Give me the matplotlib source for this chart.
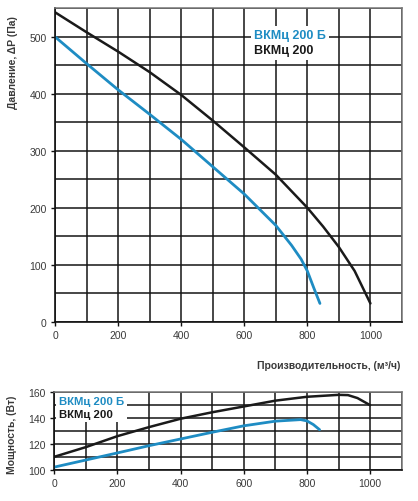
import matplotlib
matplotlib.use("Agg")
import matplotlib.pyplot as plt
from matplotlib.lines import Line2D
from matplotlib.ticker import MultipleLocator

plt.rcParams["font.family"] = ["Liberation Sans", "DejaVu Sans"]

BLUE = "#1e8cc3"
BLACK = "#1a1a1a"
TEXT = "#3a3a3a"

# pressure curves, Pa vs m3/h
flow_200 = [0, 100, 200, 300, 400, 500, 600, 700, 800, 850, 900, 950, 1000]
pressure_200 = [543, 508, 474, 438, 398, 353, 306, 258, 200, 167, 131, 89, 32]
flow_200b = [0, 100, 200, 300, 400, 500, 600, 700, 750, 780, 800, 820, 840]
pressure_200b = [500, 453, 407, 364, 320, 272, 224, 169, 134, 110, 89, 60, 32]

# power curves, W vs m3/h
pflow_200 = [0, 100, 200, 300, 400, 500, 600, 700, 800, 900, 930, 960, 1000]
power_200 = [110, 117.5, 126, 133, 139.5, 144.5, 149, 153.5, 156.5, 158, 157.8, 155.5, 150]
pflow_200b = [0, 100, 200, 300, 400, 500, 600, 700, 780, 800, 820, 840]
power_200b = [102, 107.5, 113, 118.6, 123.8, 129, 134, 137.6, 138.8, 137.8, 135, 131]

labels = ["ВКМц 200 Б", "ВКМц 200"]


def style_axes(ax, xmax, ymin, ymax, ymajor, yminor):
    ax.set_xlim(0, xmax)
    ax.set_ylim(ymin, ymax)
    ax.xaxis.set_major_locator(MultipleLocator(200))
    ax.xaxis.set_minor_locator(MultipleLocator(100))
    ax.yaxis.set_major_locator(MultipleLocator(ymajor))
    ax.yaxis.set_minor_locator(MultipleLocator(yminor))
    ax.grid(True, which="both", color="#151515", linewidth=1.1)
    ax.set_axisbelow(True)
    ax.tick_params(which="major", direction="out", length=3, width=1,
                   labelsize=7.5, labelcolor=TEXT, color="#111111", pad=3)
    ax.tick_params(which="minor", length=0)
    for side in ["left", "bottom"]:
        ax.spines[side].set_color("#111111")
        ax.spines[side].set_linewidth(1.2)
    for side in ["top", "right"]:
        ax.spines[side].set_color("#777777")
        ax.spines[side].set_linewidth(1.1)


def add_legend(ax, anchor, size):
    handles = [Line2D([], [], color=BLUE), Line2D([], [], color=BLACK)]
    leg = ax.legend(handles, labels, loc="upper left", bbox_to_anchor=anchor,
                    handlelength=0, handletextpad=0, labelcolor="linecolor",
                    prop={"weight": "bold", "size": size}, frameon=True,
                    fancybox=False, framealpha=1, edgecolor="none",
                    borderpad=0.25, labelspacing=0.3, borderaxespad=0)
    leg.get_frame().set_facecolor("white")


fig = plt.figure(figsize=(4.18, 5.02), dpi=100)
ax1 = fig.add_axes([0.1316, 0.3572, 0.830, 0.6243])
ax2 = fig.add_axes([0.1300, 0.0624, 0.831, 0.1542])

ax1.plot(flow_200, pressure_200, color=BLACK, linewidth=1.8, solid_capstyle="round")
ax1.plot(flow_200b, pressure_200b, color=BLUE, linewidth=2.0, solid_capstyle="round")
style_axes(ax1, 1100, 0, 550, 100, 50)
add_legend(ax1, (0.565, 0.945), 9)

ax2.plot(pflow_200, power_200, color=BLACK, linewidth=1.8, solid_capstyle="round")
ax2.plot(pflow_200b, power_200b, color=BLUE, linewidth=2.0, solid_capstyle="round")
style_axes(ax2, 1100, 100, 160, 20, 10)
add_legend(ax2, (0.005, 0.99), 8.2)

fig.text(0.031, 0.875, "Давление, \u0394P (Па)", rotation=90, ha="center",
         va="center", fontsize=7.5, fontweight="bold", color=TEXT)
fig.text(0.957, 0.270, "Производительность, (м\u00b3/ч)", ha="right",
         va="center", fontsize=7.5, fontweight="bold", color=TEXT)
fig.text(0.029, 0.134, "Мощность, (Вт)", rotation=90, ha="center",
         va="center", fontsize=7.5, fontweight="bold", color=TEXT)

fig.savefig("out.png", dpi=100)
